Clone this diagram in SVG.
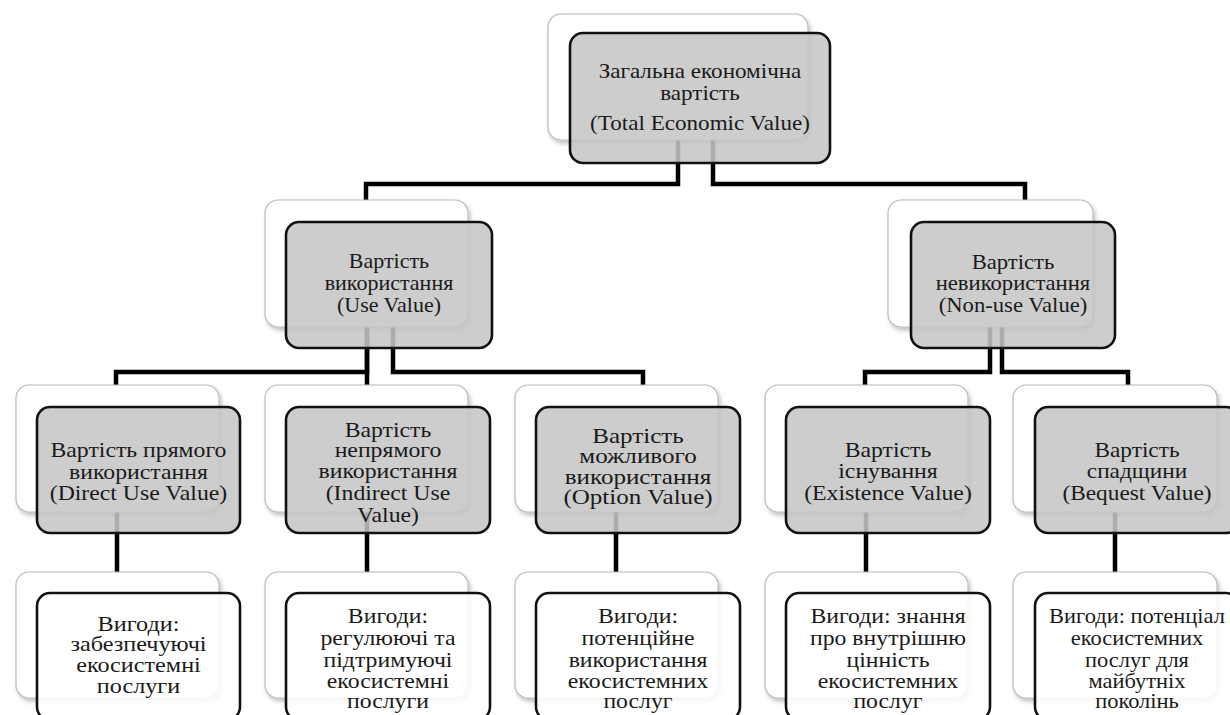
<svg xmlns="http://www.w3.org/2000/svg" width="1230" height="715" viewBox="0 0 1230 715">
<defs>
<filter id="sh" x="-10%" y="-10%" width="125%" height="130%">
<feDropShadow dx="2" dy="3" stdDeviation="2" flood-color="#000" flood-opacity="0.25"/>
</filter>
</defs>
<style>
.back{fill:#fff;stroke:#b9b9b9;stroke-width:1.2;filter:url(#sh)}
.front{fill:#c6c6c6;fill-opacity:0.87;stroke:#111;stroke-width:2.6}
.frontw{fill:#fff;fill-opacity:0.87;stroke:#111;stroke-width:2.6}
.conn{fill:none;stroke:#000;stroke-width:4.5;stroke-linejoin:miter}
text{font-family:"Liberation Serif","Times New Roman",serif;font-size:22px;fill:#1a1a1a;text-anchor:middle}
</style>
<rect width="1230" height="715" fill="#fff"/>
<g id="connectors">
<path class="conn" d="M678,140 V184 H366 V200"/>
<path class="conn" d="M713,140 V184 H1025 V200"/>
<path class="conn" d="M367,327 V372 H116 V385"/>
<path class="conn" d="M367,327 V385"/>
<path class="conn" d="M393,327 V372 H643 V385"/>
<path class="conn" d="M990,327 V372 H865 V385"/>
<path class="conn" d="M1002,327 V372 H1128 V385"/>
<path class="conn" d="M117,512 V572"/>
<path class="conn" d="M367,512 V572"/>
<path class="conn" d="M616,512 V572"/>
<path class="conn" d="M866,512 V572"/>
<path class="conn" d="M1115,512 V572"/>
</g>
<g id="total">
<rect class="back" x="548" y="14" width="260" height="126" rx="13"/>
<rect class="front" x="570" y="33" width="260" height="130" rx="13"/>
<g transform="matrix(1.05 0 0 1 -35 0)">
<text x="700" y="78">Загальна економічна</text>
<text x="700" y="100">вартість</text>
<text x="700" y="130">(Total Economic Value)</text>
</g>
</g>
<g id="use">
<rect class="back" x="265" y="200" width="203" height="127" rx="13"/>
<rect class="front" x="286" y="222" width="206" height="126" rx="13"/>
<text x="389" y="268">Вартість</text>
<text x="389" y="290">використання</text>
<text x="389" y="312">(Use Value)</text>
</g>
<g id="nonuse">
<rect class="back" x="888" y="200" width="205" height="127" rx="13"/>
<rect class="front" x="911" y="222" width="204" height="126" rx="13"/>
<g transform="matrix(1.03 0 0 1 -30.39 0)">
<text x="1013" y="269">Вартість</text>
<text x="1013" y="290">невикористання</text>
<text x="1013" y="312">(Non-use Value)</text>
</g>
</g>
<g id="direct">
<rect class="back" x="16" y="385" width="203" height="127" rx="13"/>
<rect class="front" x="37" y="407" width="203" height="126" rx="13"/>
<g transform="matrix(1.08 0 0 1 -11.08 0)">
<text x="138.5" y="457">Вартість прямого</text>
<text x="138.5" y="479">використання</text>
<text x="138.5" y="500">(Direct Use Value)</text>
</g>
</g>
<g id="indirect">
<rect class="back" x="265" y="385" width="203" height="127" rx="13"/>
<rect class="front" x="286" y="407" width="204" height="126" rx="13"/>
<g transform="matrix(1.08 0 0 1 -31.04 0)">
<text x="388" y="437">Вартість</text>
<text x="388" y="457">непрямого</text>
<text x="388" y="478">використання</text>
<text x="388" y="500">(Indirect Use</text>
<text x="388" y="522">Value)</text>
</g>
</g>
<g id="option">
<rect class="back" x="515" y="385" width="203" height="127" rx="13"/>
<rect class="front" x="536" y="407" width="204" height="126" rx="13"/>
<g transform="matrix(1.14 0 0 1 -89.32 0)">
<text x="638" y="443">Вартість</text>
<text x="638" y="463">можливого</text>
<text x="638" y="484">використання</text>
<text x="638" y="504">(Option Value)</text>
</g>
</g>
<g id="existence">
<rect class="back" x="765" y="385" width="203" height="127" rx="13"/>
<rect class="front" x="786" y="407" width="204" height="126" rx="13"/>
<g transform="matrix(1.08 0 0 1 -71.04 0)">
<text x="888" y="457">Вартість</text>
<text x="888" y="478">існування</text>
<text x="888" y="500">(Existence Value)</text>
</g>
</g>
<g id="bequest">
<rect class="back" x="1013" y="385" width="204" height="127" rx="13"/>
<rect class="front" x="1035" y="407" width="204" height="126" rx="13"/>
<g transform="matrix(1.06 0 0 1 -68.22 0)">
<text x="1137" y="457">Вартість</text>
<text x="1137" y="478">спадщини</text>
<text x="1137" y="500">(Bequest Value)</text>
</g>
</g>
<g id="benefit-direct">
<rect class="back" x="16" y="572" width="203" height="126" rx="13"/>
<rect class="frontw" x="37" y="593" width="203" height="127" rx="13"/>
<g transform="matrix(1.1 0 0 1 -13.85 0)">
<text x="138.5" y="631">Вигоди:</text>
<text x="138.5" y="651">забезпечуючі</text>
<text x="138.5" y="672">екосистемні</text>
<text x="138.5" y="693">послуги</text>
</g>
</g>
<g id="benefit-indirect">
<rect class="back" x="265" y="572" width="203" height="126" rx="13"/>
<rect class="frontw" x="286" y="593" width="204" height="127" rx="13"/>
<g transform="matrix(1.08 0 0 1 -31.04 0)">
<text x="388" y="623">Вигоди:</text>
<text x="388" y="645">регулюючі та</text>
<text x="388" y="667">підтримуючі</text>
<text x="388" y="688">екосистемні</text>
<text x="388" y="708">послуги</text>
</g>
</g>
<g id="benefit-option">
<rect class="back" x="515" y="572" width="203" height="126" rx="13"/>
<rect class="frontw" x="536" y="593" width="204" height="127" rx="13"/>
<g transform="matrix(1.08 0 0 1 -51.04 0)">
<text x="638" y="623">Вигоди:</text>
<text x="638" y="645">потенційне</text>
<text x="638" y="667">використання</text>
<text x="638" y="688">екосистемних</text>
<text x="638" y="708">послуг</text>
</g>
</g>
<g id="benefit-existence">
<rect class="back" x="765" y="572" width="203" height="126" rx="13"/>
<rect class="frontw" x="786" y="593" width="204" height="127" rx="13"/>
<g transform="matrix(1.08 0 0 1 -71.04 0)">
<text x="888" y="623">Вигоди: знання</text>
<text x="888" y="645">про внутрішню</text>
<text x="888" y="667">цінність</text>
<text x="888" y="688">екосистемних</text>
<text x="888" y="708">послуг</text>
</g>
</g>
<g id="benefit-bequest">
<rect class="back" x="1013" y="572" width="204" height="126" rx="13"/>
<rect class="frontw" x="1035" y="593" width="204" height="127" rx="13"/>
<g transform="matrix(1.02 0 0 1 -22.74 0)">
<text x="1137" y="623">Вигоди: потенціал</text>
<text x="1137" y="645">екосистемних</text>
<text x="1137" y="667">послуг для</text>
<text x="1137" y="688">майбутніх</text>
<text x="1137" y="708">поколінь</text>
</g>
</g>
</svg>
